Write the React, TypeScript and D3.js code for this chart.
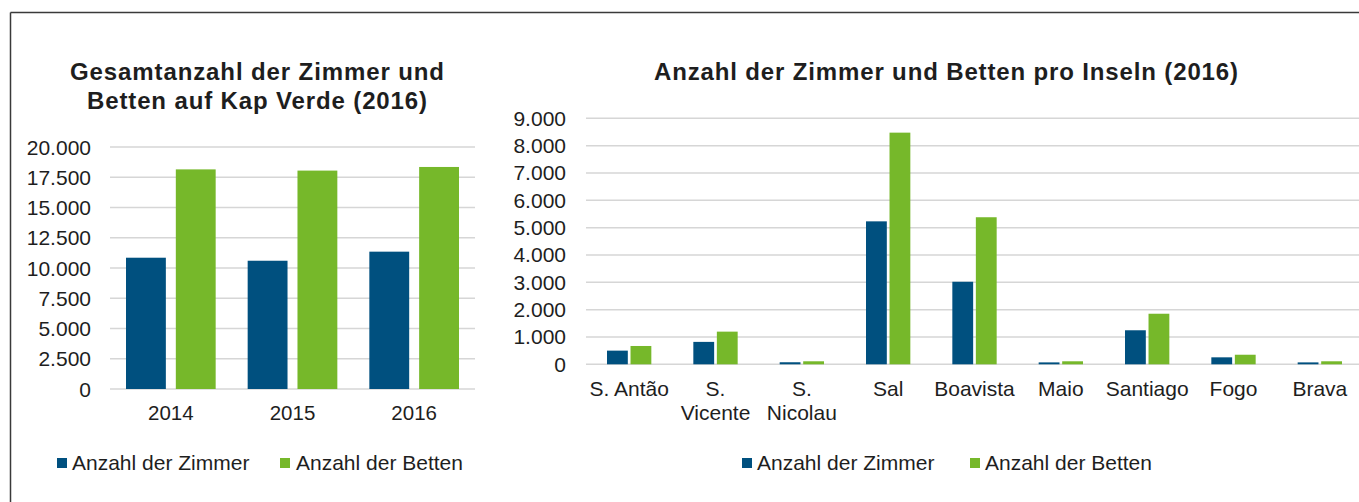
import React from "react";
import * as d3 from "d3";

const years = ["2014", "2015", "2016"];
const totalRooms = [10850, 10600, 11350];
const totalBeds = [18150, 18050, 18350];
const leftTicks = [0, 2500, 5000, 7500, 10000, 12500, 15000, 17500, 20000];

const islands = [
  ["S. Antão"],
  ["S.", "Vicente"],
  ["S.", "Nicolau"],
  ["Sal"],
  ["Boavista"],
  ["Maio"],
  ["Santiago"],
  ["Fogo"],
  ["Brava"],
];
const islandRooms = [500, 820, 75, 5230, 3020, 70, 1245, 255, 70];
const islandBeds = [670, 1195, 110, 8475, 5380, 110, 1850, 350, 110];
const rightTicks = [0, 1000, 2000, 3000, 4000, 5000, 6000, 7000, 8000, 9000];

const seriesNames = ["Anzahl der Zimmer", "Anzahl der Betten"];
const BLUE = "#00507f";
const GREEN = "#76b82a";
const GRID = "#d6d6d6";
const TEXT = "#1e1e1e";
const FONT = "'Liberation Sans', Arial, sans-serif";

const fmt = (v: number) => d3.format(",")(v).replace(/,/g, ".");

function App() {
  // Left chart scales
  const lx = d3.scaleBand<string>().domain(years).range([110, 475]);
  const ly = d3.scaleLinear().domain([0, 20000]).range([389, 147]);
  const lInner = d3
    .scaleBand<number>()
    .domain([0, 1])
    .range([16, lx.bandwidth() - 16])
    .paddingInner(0.2);

  // Right chart scales
  const rKeys = islands.map((d) => d.join(" "));
  const rx = d3.scaleBand<string>().domain(rKeys).range([586, 1363]);
  const ry = d3.scaleLinear().domain([0, 9000]).range([364.3, 118.3]);
  const rInner = d3
    .scaleBand<number>()
    .domain([0, 1])
    .range([21, rx.bandwidth() - 21])
    .paddingInner(0.115);

  return (
    <svg
      width={1359}
      height={502}
      style={{ position: "absolute", left: 0, top: 0, background: "#fff" }}
      fontFamily={FONT}
    >
      <rect x={0} y={0} width={1359} height={502} fill="#fff" />
      {/* frame */}
      <line x1={10.5} x2={1359} y1={12.5} y2={12.5} stroke="#3a3a3a" strokeWidth={1.5} />
      <line x1={10.5} x2={10.5} y1={12.5} y2={502} stroke="#3a3a3a" strokeWidth={1.5} />

      {/* LEFT CHART */}
      <text x={257} y={80} textAnchor="middle" fontSize={24} fontWeight="bold" fill={TEXT}
        textLength={374} lengthAdjust="spacing">
        Gesamtanzahl der Zimmer und
      </text>
      <text x={257} y={109} textAnchor="middle" fontSize={24} fontWeight="bold" fill={TEXT}
        textLength={340} lengthAdjust="spacing">
        Betten auf Kap Verde (2016)
      </text>
      {leftTicks.map((t) => (
        <g key={t}>
          <line x1={110} x2={475} y1={ly(t)} y2={ly(t)} stroke={GRID} strokeWidth={1.5} />
          <text x={91} y={ly(t) + 7.5} textAnchor="end" fontSize={21} fill={TEXT}>
            {fmt(t)}
          </text>
        </g>
      ))}
      {years.map((yr, i) => (
        <g key={yr}>
          {[totalRooms[i], totalBeds[i]].map((v, s) => (
            <rect
              key={s}
              x={(lx(yr) as number) + (lInner(s) as number)}
              y={ly(v)}
              width={lInner.bandwidth()}
              height={ly(0) - ly(v)}
              fill={s === 0 ? BLUE : GREEN}
            />
          ))}
          <text
            x={(lx(yr) as number) + lx.bandwidth() / 2}
            y={420}
            textAnchor="middle"
            fontSize={20.5}
            fill={TEXT}
          >
            {yr}
          </text>
        </g>
      ))}
      {/* left legend */}
      <rect x={57} y={458} width={10} height={10} fill={BLUE} />
      <text x={72} y={470} fontSize={21} fill={TEXT}>{seriesNames[0]}</text>
      <rect x={280} y={458} width={10} height={10} fill={GREEN} />
      <text x={296} y={470} fontSize={21} fill={TEXT}>{seriesNames[1]}</text>

      {/* RIGHT CHART */}
      <text x={946} y={80} textAnchor="middle" fontSize={24} fontWeight="bold" fill={TEXT}
        textLength={584} lengthAdjust="spacing">
        Anzahl der Zimmer und Betten pro Inseln (2016)
      </text>
      {rightTicks.map((t) => (
        <g key={t}>
          <line x1={586} x2={1359} y1={ry(t)} y2={ry(t)} stroke={GRID} strokeWidth={1.5} />
          <text x={566} y={ry(t) + 7.5} textAnchor="end" fontSize={21} fill={TEXT}>
            {fmt(t)}
          </text>
        </g>
      ))}
      {rKeys.map((k, i) => (
        <g key={k}>
          {[islandRooms[i], islandBeds[i]].map((v, s) => (
            <rect
              key={s}
              x={(rx(k) as number) + (rInner(s) as number)}
              y={ry(v)}
              width={rInner.bandwidth()}
              height={ry(0) - ry(v)}
              fill={s === 0 ? BLUE : GREEN}
            />
          ))}
          {islands[i].map((line, j) => (
            <text
              key={j}
              x={(rx(k) as number) + rx.bandwidth() / 2}
              y={396 + j * 24}
              textAnchor="middle"
              fontSize={21}
              fill={TEXT}
            >
              {line}
            </text>
          ))}
        </g>
      ))}
      {/* right legend */}
      <rect x={742} y={458} width={10} height={10} fill={BLUE} />
      <text x={757} y={470} fontSize={21} fill={TEXT}>{seriesNames[0]}</text>
      <rect x={970} y={458} width={10} height={10} fill={GREEN} />
      <text x={985} y={470} fontSize={21} fill={TEXT}>{seriesNames[1]}</text>
    </svg>
  );
}

export default App;
